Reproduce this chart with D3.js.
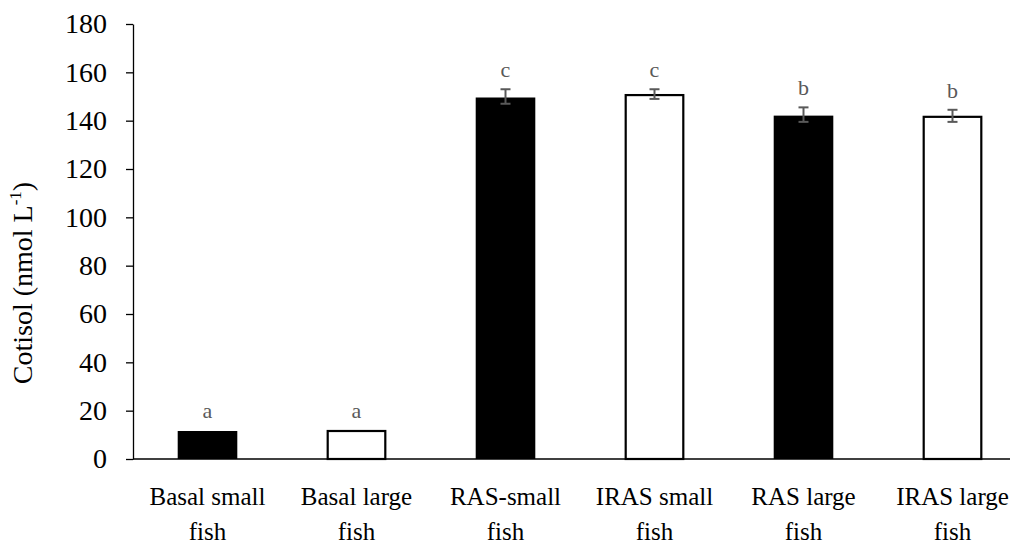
<!DOCTYPE html>
<html>
<head>
<meta charset="utf-8">
<script src="https://cdn.jsdelivr.net/npm/d3@7"></script>
<style>
  body { margin: 0; background: #fff; }
  svg { display: block; font-family: "Liberation Serif", "Times New Roman", serif; }
</style>
</head>
<body>
<svg id="chart" width="1010" height="544"></svg>
<script>
var categories = [["Basal small", "fish"], ["Basal large", "fish"], ["RAS-small", "fish"],
                  ["IRAS small", "fish"], ["RAS large", "fish"], ["IRAS large", "fish"]];
var values = [12, 12, 150, 151, 142.5, 142];
var errors = [0, 0, 3, 2, 3, 2.5];
var letters = ["a", "a", "c", "c", "b", "b"];
var filled = [true, false, true, false, true, false];
var yTicks = [0, 20, 40, 60, 80, 100, 120, 140, 160, 180];

var svg = d3.select("#chart");
var mLeft = 133, mBottom = 459, mTop = 24, mRight = 1027;

var x = d3.scaleBand()
  .domain(d3.range(categories.length))
  .range([mLeft, mRight])
  .paddingInner(0.6)
  .paddingOuter(0.3);

var y = d3.scaleLinear().domain([0, 180]).range([mBottom, mTop]);

// y axis
var yAxis = svg.append("g")
  .attr("transform", "translate(" + mLeft + ",0)")
  .call(d3.axisLeft(y).tickValues(yTicks).tickSize(7).tickSizeOuter(0).tickPadding(19));
yAxis.select(".domain").attr("stroke", "#000").attr("stroke-width", 1.3);
yAxis.selectAll(".tick line").attr("stroke", "#000").attr("stroke-width", 1.3);
yAxis.selectAll(".tick text")
  .attr("fill", "#000")
  .style("font-size", "28px")
  .style("font-family", "Liberation Serif, serif");

// bars
var bw = x.bandwidth();
svg.append("g").selectAll("rect")
  .data(values)
  .enter().append("rect")
  .attr("x", function(d, i) { return x(i) + (filled[i] ? 0 : 1); })
  .attr("y", function(d) { return y(d) + 1; })
  .attr("width", function(d, i) { return filled[i] ? bw : bw - 2; })
  .attr("height", function(d) { return mBottom - y(d) - 1; })
  .attr("fill", function(d, i) { return filled[i] ? "#000" : "#fff"; })
  .attr("stroke", "#000")
  .attr("stroke-width", function(d, i) { return filled[i] ? 0 : 2.2; });

// x axis line
svg.append("line")
  .attr("x1", mLeft).attr("x2", 1010)
  .attr("y1", mBottom).attr("y2", mBottom)
  .attr("stroke", "#000").attr("stroke-width", 1.3);

// error bars
var eg = svg.append("g").attr("stroke", "#595959").attr("stroke-width", 2);
values.forEach(function(v, i) {
  if (!errors[i]) return;
  var cx = x(i) + bw / 2;
  eg.append("line").attr("x1", cx).attr("x2", cx)
    .attr("y1", y(v + errors[i])).attr("y2", y(v - errors[i]));
  [v + errors[i], v - errors[i]].forEach(function(e) {
    eg.append("line").attr("x1", cx - 5).attr("x2", cx + 5)
      .attr("y1", y(e)).attr("y2", y(e));
  });
});

// significance letters
svg.append("g").selectAll("text")
  .data(letters)
  .enter().append("text")
  .attr("x", function(d, i) { return x(i) + bw / 2; })
  .attr("y", function(d, i) { return y(values[i] + errors[i]) - 12; })
  .attr("text-anchor", "middle")
  .attr("fill", "#595959")
  .style("font-size", "22px")
  .text(function(d) { return d; });

// category labels
var cl = svg.append("g").selectAll("text")
  .data(categories)
  .enter().append("text")
  .attr("text-anchor", "middle")
  .attr("fill", "#000")
  .style("font-size", "25px");
cl.each(function(d, i) {
  var t = d3.select(this);
  d.forEach(function(line, j) {
    t.append("tspan")
      .attr("x", x(i) + bw / 2)
      .attr("y", 505 + j * 35)
      .text(line);
  });
});

// y axis title
var title = svg.append("text")
  .attr("transform", "translate(32," + 283 + ") rotate(-90)")
  .attr("text-anchor", "middle")
  .attr("fill", "#000")
  .style("font-size", "28px");
title.append("tspan").text("Cotisol (nmol L");
title.append("tspan").attr("dy", -11).style("font-size", "17px").text("-1");
title.append("tspan").attr("dy", 11).text(")");
</script>
</body>
</html>
